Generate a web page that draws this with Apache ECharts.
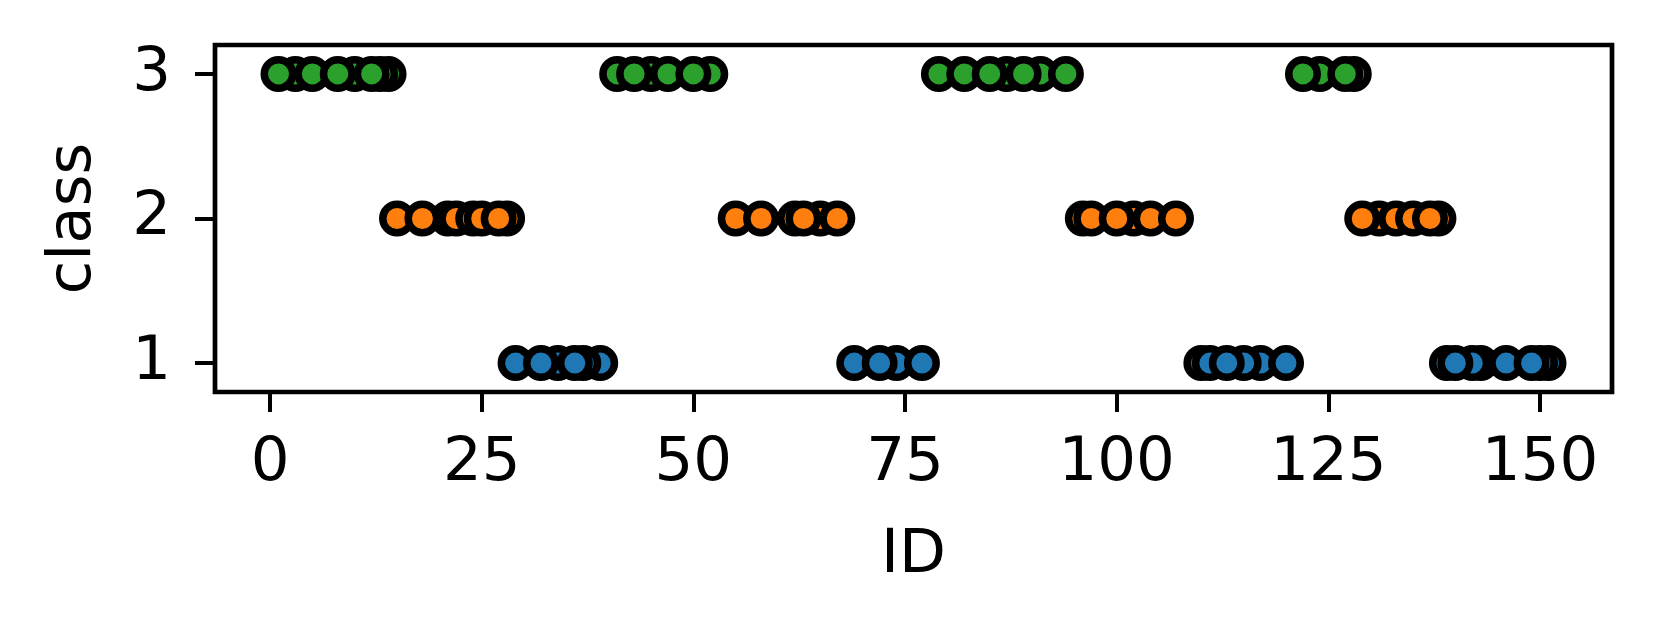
<!DOCTYPE html>
<html>
<head>
<meta charset="utf-8">
<script src="https://cdn.jsdelivr.net/npm/echarts@6/dist/echarts.min.js"></script>
<style>
  html, body { margin: 0; padding: 0; background: #fff; }
  #chart { width: 1658px; height: 628px; }
</style>
</head>
<body>
<div id="chart"></div>
<script>
// IDs belonging to each class (listed in drawing order)
const class3IDs = [3, 10, 14, 13, 1, 5, 8, 12,
                   41, 45, 52, 43, 47, 50,
                   87, 91, 79, 82, 85, 89, 94,
                   124, 128, 122, 127];
const class2IDs = [21, 22, 24, 28, 25, 15, 18, 27,
                   62, 65, 55, 58, 63, 67,
                   96, 102, 97, 100, 104, 107,
                   131, 133, 135, 138, 129, 137];
const class1IDs = [34, 39, 37, 29, 32, 36,
                   74, 69, 72, 77,
                   117, 110, 111, 115, 113, 120,
                   143, 142, 151, 150, 139, 140, 146, 149];
const xTicks = [0, 25, 50, 75, 100, 125, 150];
const yTicks = [1, 2, 3];
const xLabel = 'ID';
const yLabel = 'class';

const FONT = 'DejaVu Sans';
const chart = echarts.init(document.getElementById('chart'), null, { renderer: 'canvas' });

function mk(ids, cls, color) {
  return {
    type: 'scatter',
    data: ids.map(id => [id, cls]),
    symbol: 'circle',
    symbolSize: 28.5,
    itemStyle: { color: color, borderColor: '#000', borderWidth: 7.5, opacity: 1 },
    emphasis: { disabled: true },
    silent: true
  };
}

chart.setOption({
  animation: false,
  backgroundColor: '#fff',
  grid: {
    left: 215, right: 46, top: 45, bottom: 236,
    show: true, borderColor: '#000', borderWidth: 4.7, backgroundColor: 'transparent'
  },
  xAxis: {
    type: 'value', min: -6.5, max: 158.5,
    name: xLabel, nameLocation: 'middle', nameGap: 134,
    nameTextStyle: { fontSize: 61, color: '#000', fontFamily: FONT },
    axisLine: { show: false, onZero: false },
    splitLine: { show: false },
    axisTick: { show: true, customValues: xTicks, length: 20, lineStyle: { color: '#000', width: 4 } },
    axisLabel: { customValues: xTicks, fontSize: 61, color: '#000', fontFamily: FONT, margin: 42 }
  },
  yAxis: {
    type: 'value', min: 0.8, max: 3.2,
    name: yLabel, nameLocation: 'middle', nameGap: 110, nameRotate: 90,
    nameTextStyle: { fontSize: 61, color: '#000', fontFamily: FONT },
    axisLine: { show: false, onZero: false },
    splitLine: { show: false },
    axisTick: { show: true, customValues: yTicks, length: 20, lineStyle: { color: '#000', width: 4 } },
    axisLabel: { customValues: yTicks, fontSize: 61, color: '#000', fontFamily: FONT, margin: 44 }
  },
  series: [
    mk(class1IDs, 1, '#1f77b4'),
    mk(class2IDs, 2, '#ff7f0e'),
    mk(class3IDs, 3, '#2ca02c')
  ]
});
</script>
</body>
</html>
